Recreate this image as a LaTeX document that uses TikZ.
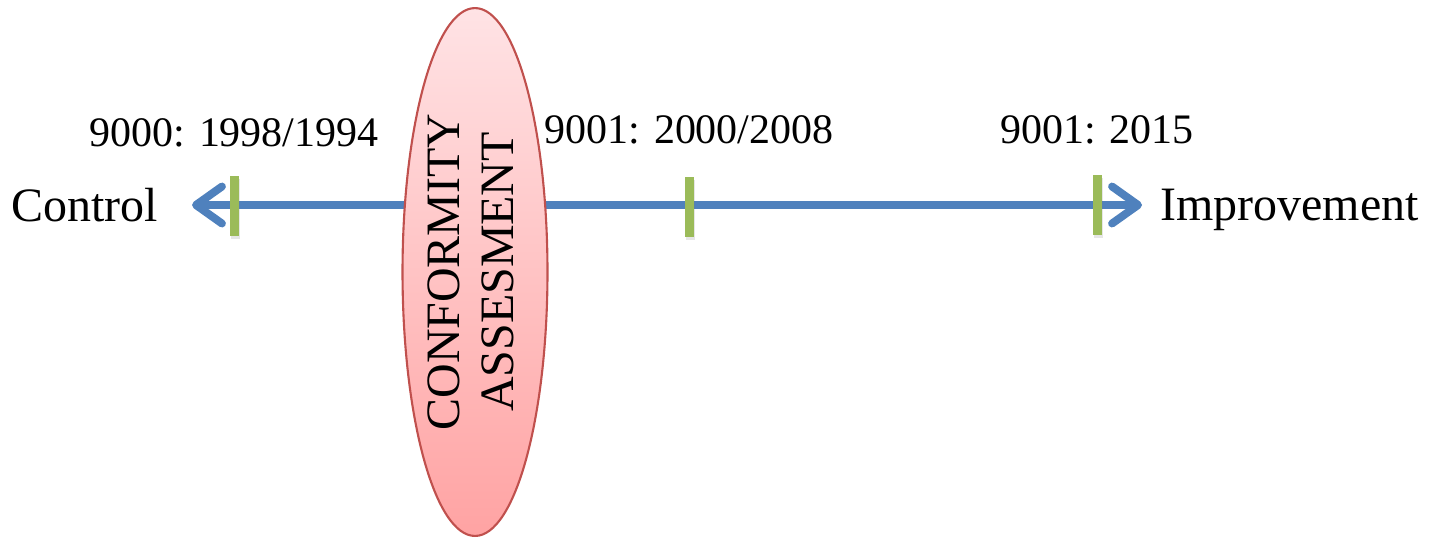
\documentclass[tikz,border=0pt]{standalone}
\usepackage{fontspec}
\setmainfont{Liberation Serif}
\usetikzlibrary{shapes,arrows.meta,shadows}
\usetikzlibrary{positioning,calc}
\definecolor{AxisCol}{HTML}{4F81BD}
\definecolor{TickCol}{HTML}{9BBB59}
\definecolor{LensCol}{HTML}{C0504D}
\definecolor{LensTopCol}{HTML}{FFE3E5}
\definecolor{LensBotCol}{HTML}{FFA3A3}
\tikzset{
  end label/.style ={
    inner sep=0pt,
    text depth=0pt,
    font=\fontsize{27.3}{32}\selectfont,
    },
  year label/.style ={
    inner sep=0pt,
    font=\fontsize{23.9}{28}\selectfont,
    },
  tick mark/.style ={
    rectangle,
    fill=TickCol,
    inner sep=0pt,
    minimum width=0.18cm,
    minimum height=1.2cm,
    drop shadow={shadow xshift=0.02cm,shadow yshift=-0.06cm,opacity=0.2},
    },
  lens/.style ={
    ellipse,
    draw=LensCol,
    line width=1.2pt,
    top color=LensTopCol,
    bottom color=LensBotCol,
    inner sep=0pt,
    minimum width=2.9cm,
    minimum height=10.56cm,
    font=\fontsize{27.3}{32}\selectfont,
    },
}
\tikzstyle{Axis} = [AxisCol,line width=4.5pt,
  {Straight Barb[length=0.52cm,width=0.74cm,round]}-{Straight Barb[length=0.52cm,width=0.74cm,round]}]

\begin{document}
\begin{tikzpicture}[x=0.02cm,y=-0.02cm]

    \useasboundingbox (0,0) rectangle (1433,539);

    \coordinate (ctrl) at (192,205);
    \coordinate (impr) at (1142,205);

    % Axis
    \draw[Axis] (ctrl) -- (impr);

    % Ticks
    \node[tick mark] (t94) at (234,206) {};
    \node[tick mark] (t08) at (689,207) {};
    \node[tick mark] (t15) at (1097,205) {};

    \node[year label,above=0.56cm of t94] {9000: 1998/1994};
    \node[year label,above=0.64cm of t08] {9001: 2000/2008};
    \node[year label,above=0.6cm of t15] {9001: 2015};

    \node[end label,left=0.68cm of ctrl] {Control};
    \node[end label,right=0.36cm of impr] {Improvement};

    % Conformity lens
    \node[lens] (conf) at (475,272)
        {\makebox[0pt]{\rotatebox{90}{\begin{tabular}{@{}c@{}}CONFORMITY\\[-1pt]ASSESMENT\end{tabular}}}};

\end{tikzpicture}
\end{document}
